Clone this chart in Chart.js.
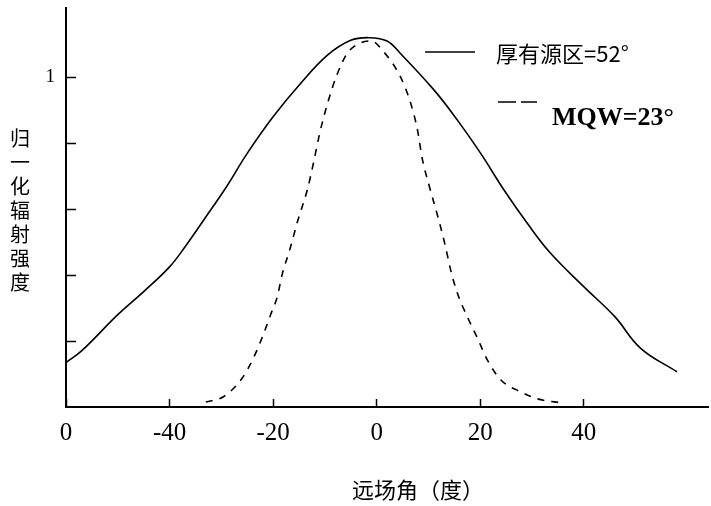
<!DOCTYPE html>
<html>
<head>
<meta charset="utf-8">
<script src="https://cdn.jsdelivr.net/npm/chart.js@4.4.1/dist/chart.umd.min.js"></script>
<style>
  html, body { margin: 0; padding: 0; background: #fff; }
  #wrap { width: 711px; height: 506px; }
</style>
</head>
<body>
<div id="wrap"><canvas id="myChart"></canvas></div>
<script>
// far-field angle (deg) and normalised intensity
var thickAngles = [-60, -57, -50, -45, -40, -37, -33.4, -29, -25, -20, -14.7, -9.5, -5, -1.5, 2, 4.6, 11.1, 15.6, 20.1, 24.6, 29.1, 33.6, 40, 46, 51, 58];
var thickValues = [0.135, 0.17, 0.28, 0.35, 0.425, 0.486, 0.567, 0.668, 0.769, 0.88, 0.981, 1.067, 1.112, 1.12, 1.11, 1.072, 0.961, 0.87, 0.769, 0.658, 0.557, 0.466, 0.365, 0.274, 0.178, 0.107];

var mqwAngles = [-33, -29.6, -26, -23.7, -21.8, -20.5, -19.2, -18.2, -16.8, -15.2, -13.4, -12.2, -11, -9.5, -7.7, -5.7, -3, -1, 1.1, 4.6, 6.6, 7.9, 8.8, 10.2, 12, 13.3, 14.3, 15.6, 17.5, 19.5, 21.4, 24, 27.8, 31, 36];
var mqwValues = [0.015, 0.031, 0.087, 0.152, 0.223, 0.279, 0.334, 0.405, 0.476, 0.567, 0.658, 0.74, 0.83, 0.92, 1.006, 1.072, 1.105, 1.11, 1.082, 1.001, 0.92, 0.839, 0.754, 0.668, 0.567, 0.486, 0.415, 0.345, 0.274, 0.208, 0.142, 0.082, 0.046, 0.025, 0.012];

var xTickValues = [-60, -40, -20, 0, 20, 40];
var xTickLabels = ['0', '-40', '-20', '0', '20', '40'];
var yTickValues = [0.2, 0.4, 0.6, 0.8, 1.0];
var yTickLabels = ['', '', '', '', '1'];

var seriesNames = ['厚有源区=52°', 'MQW=23°'];
var xTitle = '远场角（度）';
var yTitle = '归一化辐射强度';

function toPoints(xs, ys) {
  return xs.map(function(x, i) { return { x: x, y: ys[i] }; });
}

// titles and legend drawn on top of the chart
var annotate = {
  id: 'annotate',
  afterDraw: function(chart) {
    var ctx = chart.ctx;
    var ds = chart.data.datasets;
    ctx.save();
    ctx.fillStyle = '#000';
    ctx.textBaseline = 'middle';

    // y title, one character per row
    ctx.font = '20px "Noto Sans CJK SC"';
    ctx.textAlign = 'center';
    Array.from(yTitle).forEach(function(ch, i) {
      ctx.fillText(ch, 20, 138 + i * 24);
    });

    // x title
    ctx.font = '22px "Noto Sans CJK SC"';
    ctx.textAlign = 'left';
    ctx.fillText(xTitle, 352, 490);

    // legend
    ctx.strokeStyle = ds[0].borderColor;
    ctx.lineWidth = ds[0].borderWidth;
    ctx.beginPath();
    ctx.moveTo(425, 52);
    ctx.lineTo(475, 52);
    ctx.stroke();
    ctx.font = '22px "Noto Sans CJK SC"';
    ctx.fillText(seriesNames[0], 496, 54);

    ctx.strokeStyle = ds[1].borderColor;
    ctx.lineWidth = ds[1].borderWidth;
    ctx.setLineDash([18, 5]);
    ctx.beginPath();
    ctx.moveTo(498, 102);
    ctx.lineTo(537, 102);
    ctx.stroke();
    ctx.setLineDash([]);
    ctx.font = 'bold 26px "Liberation Serif"';
    ctx.fillText(seriesNames[1], 552, 118);

    ctx.restore();
  }
};

var ctx = document.getElementById('myChart').getContext('2d');
var myChart = new Chart(ctx, {
  type: 'line',
  data: {
    datasets: [{
      label: seriesNames[0],
      data: toPoints(thickAngles, thickValues),
      borderColor: '#000',
      borderWidth: 1.6,
      pointRadius: 0,
      tension: 0.4,
      fill: false
    }, {
      label: seriesNames[1],
      data: toPoints(mqwAngles, mqwValues),
      borderColor: '#000',
      borderWidth: 1.6,
      borderDash: [7, 7],
      pointRadius: 0,
      cubicInterpolationMode: 'monotone',
      fill: false
    }]
  },
  options: {
    responsive: true,
    maintainAspectRatio: false,
    animation: false,
    layout: { padding: { top: 8, right: 3, left: 0, bottom: 0 } },
    plugins: {
      legend: { display: false },
      tooltip: { enabled: false }
    },
    scales: {
      x: {
        type: 'linear',
        min: -60,
        max: 64,
        afterFit: function(scale) {
          scale.height = 99;
          scale.paddingLeft = 0;
          scale.paddingRight = 0;
        },
        afterBuildTicks: function(scale) {
          scale.ticks = xTickValues.map(function(v) { return { value: v }; });
        },
        border: { display: true, color: '#000', width: 2 },
        grid: { drawOnChartArea: false, drawTicks: true, tickLength: -8, tickColor: '#000', tickWidth: 1.5 },
        ticks: {
          autoSkip: false,
          maxRotation: 0,
          padding: 19,
          color: '#000',
          font: { family: 'Liberation Serif', size: 25 },
          callback: function(value) {
            var i = xTickValues.indexOf(value);
            return i < 0 ? '' : xTickLabels[i];
          }
        }
      },
      y: {
        type: 'linear',
        min: 0,
        max: 1.21,
        afterFit: function(scale) {
          scale.width = 66;
          scale.paddingTop = 0;
          scale.paddingBottom = 0;
        },
        afterBuildTicks: function(scale) {
          scale.ticks = yTickValues.map(function(v) { return { value: v }; });
        },
        border: { display: true, color: '#000', width: 2 },
        grid: { drawOnChartArea: false, drawTicks: true, tickLength: -10, tickColor: '#000', tickWidth: 1.5 },
        ticks: {
          autoSkip: false,
          padding: 21,
          color: '#000',
          font: { family: 'Liberation Serif', size: 19 },
          callback: function(value) {
            var i = yTickValues.indexOf(value);
            return i < 0 ? '' : yTickLabels[i];
          }
        }
      }
    }
  },
  plugins: [annotate]
});
</script>
</body>
</html>
